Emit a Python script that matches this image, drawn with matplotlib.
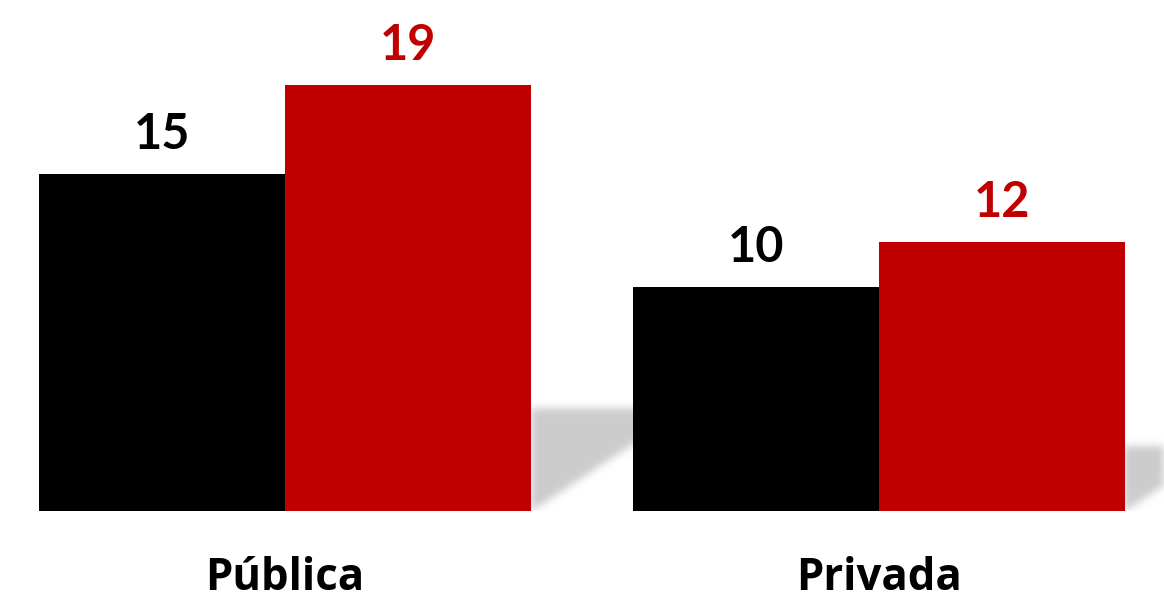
import matplotlib.pyplot as plt
import numpy as np

plt.rcParams['font.family'] = ['Lato', 'DejaVu Sans']

categorias = ["Pública", "Privada"]
serie_negra = [15, 10]
serie_roja = [19, 12]

color_negro = "#000000"
color_rojo = "#C00000"

fig = plt.figure(figsize=(11.64, 6.02), dpi=100)
ax = fig.add_axes([0, 91 / 602, 1, 511 / 602])

x = np.arange(len(categorias))
w = 0.414
x_min, x_max = -0.4798, 1.4798
y_max = 511 / 22.44

ax.bar(x - w / 2, serie_negra, width=w, color=color_negro, zorder=3)
ax.bar(x + w / 2, serie_roja, width=w, color=color_rojo, zorder=3)

# linea gris suave bajo cada grupo de barras
for xi in x:
    ax.plot([xi - w, xi + w], [0, 0], color="#d4d4d4", lw=2, zorder=2,
            solid_capstyle="butt")

# sombra difusa detras de la barra roja de cada grupo
nx, ny = 1164, 511
gx = np.linspace(x_min, x_max, nx)
gy = np.linspace(0, y_max, ny)
XX, YY = np.meshgrid(gx, gy)
mask = np.zeros_like(XX)
pendiente = 0.66 * 594 / 22.44
for xi, h in zip(x, serie_roja):
    xr = xi + w
    hs = 0.24 * h
    dentro = (XX >= xr) & (YY <= hs) & (YY >= (XX - xr) * pendiente - 0.05)
    mask[dentro] = 1.0

k = np.exp(-0.5 * (np.arange(-12, 13) / 4.0) ** 2)
k /= k.sum()
mask = np.apply_along_axis(lambda r: np.convolve(r, k, mode="same"), 1, mask)
mask = np.apply_along_axis(lambda c: np.convolve(c, k, mode="same"), 0, mask)

img = np.zeros((ny, nx, 4))
img[..., :3] = 0.80
img[..., 3] = mask
ax.imshow(img, extent=(x_min, x_max, 0, y_max), origin="lower",
          aspect="auto", interpolation="bilinear", zorder=1)

for xi, v in zip(x, serie_negra):
    ax.annotate(str(v), (xi - w / 2, v), xytext=(0, 18), textcoords="offset points",
                ha="center", va="baseline", fontsize=35, fontweight="bold",
                color=color_negro)
for xi, v in zip(x, serie_roja):
    ax.annotate(str(v), (xi + w / 2, v), xytext=(0, 18), textcoords="offset points",
                ha="center", va="baseline", fontsize=35, fontweight="bold",
                color=color_rojo)

for xi, c in zip(x, categorias):
    ax.annotate(c, (xi, 0), xycoords=("data", "axes fraction"), xytext=(0, -57),
                textcoords="offset points", ha="center", va="baseline",
                fontsize=31.5, fontweight="bold", color="black",
                family=["Open Sans", "DejaVu Sans"], annotation_clip=False)

ax.set_xlim(x_min, x_max)
ax.set_ylim(0, y_max)
ax.axis("off")

fig.savefig("out.png", dpi=100)
